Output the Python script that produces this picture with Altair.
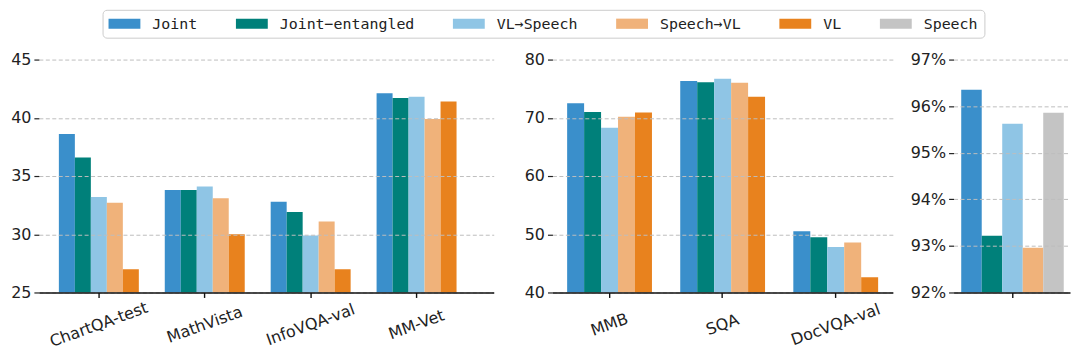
import altair as alt
import pandas as pd

series = ["Joint", "Joint\u2212entangled", "VL\u2192Speech", "Speech\u2192VL", "VL", "Speech"]
colors = ["#3a8fcb", "#00807a", "#8fc5e5", "#f0b27a", "#e8821e", "#c4c4c4"]

cats1 = ["ChartQA-test", "MathVista", "InfoVQA-val", "MM-Vet"]
joint1 = [38.6, 33.8, 32.8, 42.1]
ent1 = [36.6, 33.8, 31.9, 41.7]
vls1 = [33.2, 34.1, 29.9, 41.8]
svl1 = [32.7, 33.1, 31.1, 39.9]
vl1 = [27.0, 30.0, 27.0, 41.4]

cats2 = ["MMB", "SQA", "DocVQA-val"]
joint2 = [72.5, 76.3, 50.5]
ent2 = [71.0, 76.1, 49.5]
vls2 = [68.3, 76.7, 47.8]
svl2 = [70.2, 76.0, 48.6]
vl2 = [70.9, 73.6, 42.6]

cats3 = [""]
joint3 = [96.35]
ent3 = [93.22]
vls3 = [95.62]
svl3 = [92.96]
speech3 = [95.86]


def table(cats, cols):
    rows = []
    for name, vals in cols:
        for c, v in zip(cats, vals):
            rows.append({"cat": c, "series": name, "value": v})
    return pd.DataFrame(rows)


df1 = table(cats1, [(series[0], joint1), (series[1], ent1), (series[2], vls1), (series[3], svl1), (series[4], vl1)])
df2 = table(cats2, [(series[0], joint2), (series[1], ent2), (series[2], vls2), (series[3], svl2), (series[4], vl2)])
df3 = table(cats3, [(series[0], joint3), (series[1], ent3), (series[2], vls3), (series[3], svl3), (series[5], speech3)])

legend = alt.Legend(
    orient="none", legendX=64, legendY=-50, direction="horizontal", columns=6,
    title=None, symbolType="M-2,-0.64H2V0.64H-2Z", symbolSize=256, symbolOffset=8,
    symbolStrokeWidth=0, symbolOpacity=1, labelFont="DejaVu Sans Mono",
    labelFontSize=15, labelColor="#222222", labelOffset=20, columnPadding=38,
    padding=6, strokeColor="#cccccc", fillColor="white", cornerRadius=4,
)
color = alt.Color("series:N", scale=alt.Scale(domain=series, range=colors), legend=legend)

yaxis_common = dict(domain=False, tickSize=5, tickColor="#222222", tickWidth=1.2,
                    grid=True, gridDash=[4, 2.5], gridColor="#bdbdbd", gridWidth=1,
                    labelFont="DejaVu Sans", labelFontSize=16, labelColor="#222222",
                    labelPadding=3, title=None, zindex=1)
xaxis = alt.Axis(domain=True, domainColor="#111111", domainWidth=1.6, ticks=True, tickSize=5,
                 tickColor="#111111", tickWidth=1.4, labelAngle=-20, labelAlign="center",
                 labelBaseline="middle", labelPadding=27, labelFont="DejaVu Sans",
                 labelFontSize=16, labelColor="#222222", title=None, grid=False, zindex=2)


def panel(df, cats, sers, ydom, yvals, w, pi, po, align, fmt=None):
    ya = dict(yaxis_common)
    ya["values"] = yvals
    if fmt:
        ya["labelExpr"] = fmt
    return alt.Chart(df).mark_bar(clip=True).encode(
        x=alt.X("cat:N", sort=cats, axis=xaxis,
                scale=alt.Scale(paddingInner=pi, paddingOuter=po, align=align)),
        xOffset=alt.XOffset("series:N", sort=sers, scale=alt.Scale(domain=sers, paddingInner=0, paddingOuter=0)),
        y=alt.Y("value:Q", scale=alt.Scale(domain=ydom, zero=False, nice=False), axis=alt.Axis(**ya)),
        color=color,
    ).properties(width=w, height=234)


p1 = panel(df1, cats1, series[:5], [25, 45], [25, 30, 35, 40, 45], 457, 0.245, 0.27, 0.35)
p2 = panel(df2, cats2, series[:5], [40, 80], [40, 50, 60, 70, 80], 342, 0.25, 0.13, 0.5)
p3 = panel(df3, cats3, [series[0], series[1], series[2], series[3], series[5]], [92, 97],
           [92, 93, 94, 95, 96, 97], 117, 0.0, 0.068, 0.55, fmt="datum.value + '%'")

inner = alt.hconcat(p1, p2, spacing=30).resolve_scale(
    x="independent", y="independent", xOffset="independent", color="shared")
chart = alt.hconcat(inner, p3, spacing=17).resolve_scale(
    x="independent", y="independent", xOffset="independent", color="shared"
).properties(
    padding={"left": 2, "top": 0, "right": 2, "bottom": 2}
).configure(background="white").configure_view(strokeWidth=0, stroke="transparent")

chart.save("out.html", embed_options={"renderer": "svg", "actions": False})
